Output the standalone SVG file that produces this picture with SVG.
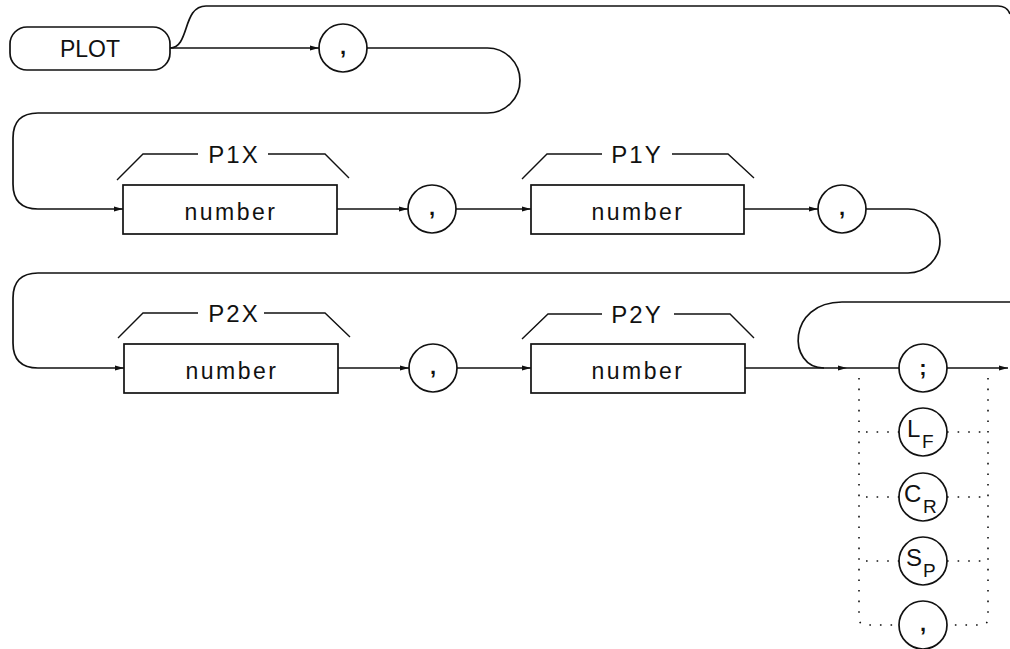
<svg xmlns="http://www.w3.org/2000/svg" width="1010" height="649" viewBox="0 0 1010 649">
<defs>
<marker id="arr" viewBox="0 0 9 6" refX="9" refY="3" markerWidth="9" markerHeight="6" markerUnits="userSpaceOnUse" orient="auto">
<path d="M0,0.6 L9,3 L0,5.4 z" fill="#111"/>
</marker>
<style>
.ln{fill:none;stroke:#111;stroke-width:1.7}
.dot{fill:none;stroke:#111;stroke-width:1.6;stroke-dasharray:1.6 9}
.box{fill:#fff;stroke:#111;stroke-width:1.7}
.br{fill:none;stroke:#111;stroke-width:1.4}
.t{font-family:"Liberation Sans","DejaVu Sans",sans-serif;font-size:23px;fill:#111;text-anchor:middle}
.lb{font-family:"Liberation Sans","DejaVu Sans",sans-serif;font-size:24px;fill:#111;text-anchor:middle;letter-spacing:2px}
.num{font-family:"Liberation Sans","DejaVu Sans",sans-serif;font-size:23px;fill:#111;text-anchor:middle;letter-spacing:2.5px}
.pc{font-family:"Liberation Sans","DejaVu Sans",sans-serif;font-size:22px;font-weight:bold;fill:#111;text-anchor:middle}
.big{font-family:"Liberation Sans","DejaVu Sans",sans-serif;font-size:24px;fill:#111}
.sub{font-family:"Liberation Sans","DejaVu Sans",sans-serif;font-size:19px;fill:#111}
</style>
</defs>
<rect width="1010" height="649" fill="#fff"/>
<g id="connectors">
<path class="ln" d="M170 48 C190 48 182 6 206 6 H998 Q1007 6 1010 14"/>
<path class="ln" d="M170 48 H319" marker-end="url(#arr)"/>
<path class="ln" d="M367 48 H487.5 A32.5 32.5 0 0 1 487.5 113 H38 Q13 113 13 138 V184 Q13 209 38 209 H123" marker-end="url(#arr)"/>
<path class="ln" d="M337 209 H408" marker-end="url(#arr)"/>
<path class="ln" d="M456 209 H531" marker-end="url(#arr)"/>
<path class="ln" d="M744 209 H818" marker-end="url(#arr)"/>
<path class="ln" d="M866 209 H908 A32 32 0 0 1 908 273 H38 Q13 273 13 298 V343 Q13 368 38 368 H124" marker-end="url(#arr)"/>
<path class="ln" d="M338 368 H409" marker-end="url(#arr)"/>
<path class="ln" d="M457 368 H531" marker-end="url(#arr)"/>
<path class="ln" d="M745 368 H847" marker-end="url(#arr)"/>
<path class="ln" d="M847 368 H899"/>
<path class="ln" d="M1010 302 H842 C787 302 787 368 824 368"/>
<path class="ln" d="M947 368 H1008" marker-end="url(#arr)"/>
<path class="dot" d="M859 378 V618 Q859 625 866 625 H899"/>
<path class="dot" d="M988 378 V618 Q988 625 981 625 H947"/>
<path class="dot" d="M866 432 H899 M947 432 H985 M866 497 H899 M947 497 H985 M866 561 H899 M947 561 H985"/>
</g>
<g id="plot">
<rect class="box" x="10" y="27" width="160" height="43" rx="17"/>
<text class="t" x="90" y="57">PLOT</text>
</g>
<g id="c1"><circle class="box" cx="343" cy="48" r="24"/><text class="pc" x="343" y="54">,</text></g>
<g id="p1x">
<polyline class="br" points="117,180 143,154 198,154"/>
<polyline class="br" points="268,154 325,154 349,178"/>
<text class="lb" x="234" y="163">P1X</text>
<rect class="box" x="123" y="185" width="214" height="49"/>
<text class="num" x="231" y="220">number</text>
</g>
<g id="c2"><circle class="box" cx="432" cy="209" r="24"/><text class="pc" x="432" y="215">,</text></g>
<g id="p1y">
<polyline class="br" points="522,179 547,154 602,154"/>
<polyline class="br" points="672,154 728,154 754,178"/>
<text class="lb" x="637" y="163">P1Y</text>
<rect class="box" x="531" y="185" width="213" height="49"/>
<text class="num" x="638" y="220">number</text>
</g>
<g id="c3"><circle class="box" cx="842" cy="209" r="24"/><text class="pc" x="842" y="215">,</text></g>
<g id="p2x">
<polyline class="br" points="118,338 143,313 198,313"/>
<polyline class="br" points="264,313 325,313 350,337"/>
<text class="lb" x="234" y="322">P2X</text>
<rect class="box" x="124" y="344" width="214" height="49"/>
<text class="num" x="232" y="379">number</text>
</g>
<g id="c4"><circle class="box" cx="433" cy="368" r="24"/><text class="pc" x="433" y="374">,</text></g>
<g id="p2y">
<polyline class="br" points="522,339 548,314 602,314"/>
<polyline class="br" points="674,314 730,314 754,338"/>
<text class="lb" x="637" y="323">P2Y</text>
<rect class="box" x="531" y="344" width="214" height="49"/>
<text class="num" x="638" y="379">number</text>
</g>
<g id="semi"><circle class="box" cx="923" cy="368" r="24"/><text class="pc" x="923" y="375">;</text></g>
<g id="lf"><circle class="box" cx="923" cy="432" r="24"/><text class="big" x="907" y="437">L</text><text class="sub" x="922" y="448">F</text></g>
<g id="cr"><circle class="box" cx="923" cy="497" r="24"/><text class="big" x="904" y="502">C</text><text class="sub" x="923" y="513">R</text></g>
<g id="sp"><circle class="box" cx="923" cy="561" r="24"/><text class="big" x="906" y="566">S</text><text class="sub" x="923" y="577">P</text></g>
<g id="comma"><circle class="box" cx="923" cy="625" r="24"/><text class="pc" x="923" y="631">,</text></g>
</svg>
